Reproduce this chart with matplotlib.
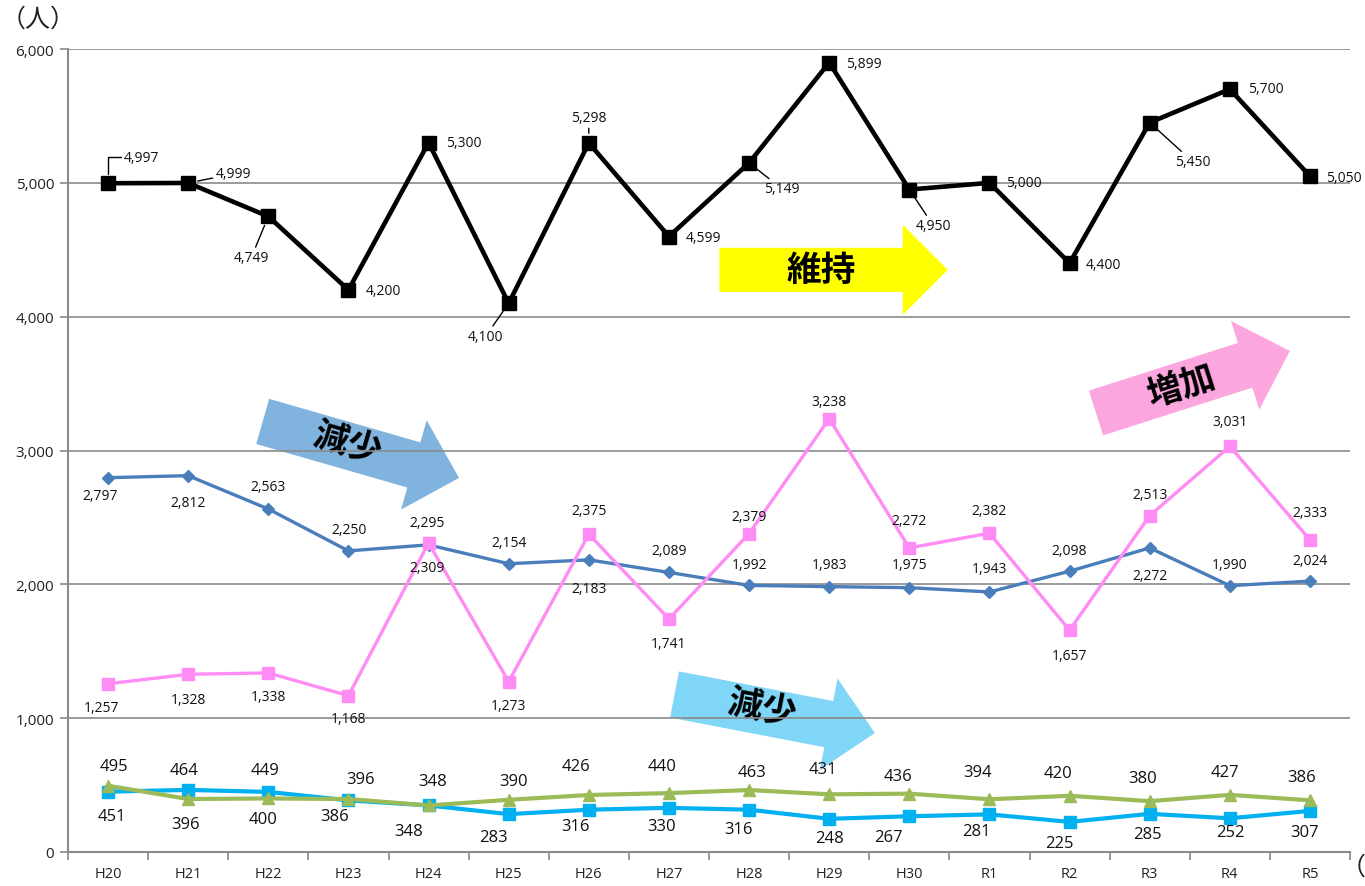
import matplotlib
matplotlib.use('Agg')
import matplotlib.pyplot as plt
import numpy as np
from matplotlib.patches import Polygon
from matplotlib.ticker import FuncFormatter, FixedLocator

plt.rcParams['font.family'] = ['Open Sans', 'Noto Sans CJK JP', 'DejaVu Sans']

# data
years = ['H20', 'H21', 'H22', 'H23', 'H24', 'H25', 'H26', 'H27', 'H28', 'H29', 'H30',
         'R1', 'R2', 'R3', 'R4', 'R5']
total = [4997, 4999, 4749, 4200, 5300, 4100, 5298, 4599, 5149, 5899, 4950, 5000, 4400, 5450, 5700, 5050]
blue_vals = [2797, 2812, 2563, 2250, 2295, 2154, 2183, 2089, 1992, 1983, 1975, 1943, 2098, 2272, 1990, 2024]
pink_vals = [1257, 1328, 1338, 1168, 2309, 1273, 2375, 1741, 2379, 3238, 2272, 2382, 1657, 2513, 3031, 2333]
green_vals = [495, 396, 400, 396, 348, 390, 426, 440, 463, 431, 436, 394, 420, 380, 427, 386]
cyan_vals = [451, 464, 449, 386, 348, 283, 316, 330, 316, 248, 267, 281, 225, 285, 252, 307]

# label offsets in pixels (dx, dy up)
total_off = [(33, 26), (45, 9), (-17, -41), (35, -1), (35, 0), (-23, -33), (0, 25), (35, -1),
             (33, -26), (35, -1), (24, -36), (34, 0), (34, -1), (43, -39), (36, 1), (34, -1)]
total_leader = [True, True, True, False, False, True, True, False, True, False, True, False, False,
                True, False, False]
blue_off = [(-8, -18), (0, -27), (0, 22), (1, 21), (-1, 22), (0, 21), (0, -29), (0, 22),
            (0, 21), (0, 22), (0, 23), (0, 23), (0, 21), (0, -28), (0, 21), (0, 21)]
pink_off = [(-7, -24), (0, -25), (0, -24), (0, -23), (-1, -25), (0, -24), (0, 24), (0, -25),
            (0, 17), (0, 17), (0, 27), (0, 23), (0, -25), (0, 21), (0, 25), (0, 27)]
green_off = [(6, 20), (-3, -25), (-5, -21), (12, 20), (4, 24), (5, 19), (-13, 29), (-7, 27),
             (3, 18), (-6, 25), (-11, 18), (-12, 27), (-12, 23), (-7, 23), (-5, 23), (-8, 23)]
cyan_off = [(4, -24), (-4, 20), (-3, 22), (-14, -16), (-20, -26), (-15, -23), (-13, -16), (-7, -18),
            (-11, -19), (0, -19), (-21, -21), (-13, -17), (-10, -21), (-2, -20), (1, -14), (-5, -21)]

W, H = 1365, 887
fig = plt.figure(figsize=(W / 100, H / 100), dpi=100)
ax = fig.add_axes([68 / W, 1 - 853 / H, (1350 - 68) / W, (853 - 50) / H])

x = np.arange(len(years))
ax.set_xlim(-0.5, len(years) - 0.5)
ax.set_ylim(0, 6000)

grid_c = '#8a8a8a'
ax.set_yticks(np.arange(0, 6001, 1000))
ax.yaxis.set_major_formatter(FuncFormatter(lambda v, p: f'{int(v):,}'))
ax.grid(axis='y', color=grid_c, lw=1.2)
ax.set_axisbelow(True)
ax.set_xticks(x)
ax.set_xticklabels(years)
ax.xaxis.set_minor_locator(FixedLocator(np.arange(-0.5, len(years), 1)))
ax.tick_params(axis='x', which='major', length=0, pad=10, labelsize=10.5, labelcolor='#222222')
ax.tick_params(axis='x', which='minor', length=6, width=1.2, color=grid_c)
ax.tick_params(axis='y', length=6, width=1.2, color=grid_c, labelsize=11, labelcolor='#222222', pad=4)
for s in ['top', 'right']:
    ax.spines[s].set_visible(False)
for s in ['left', 'bottom']:
    ax.spines[s].set_color(grid_c)
    ax.spines[s].set_linewidth(1.5)

ax.plot(x, blue_vals, color='#4A7EBB', lw=2.4, marker='D', ms=6.5, zorder=2)
ax.plot(x, pink_vals, color='#FF8CF4', lw=2.4, marker='s', ms=8.5, zorder=2.1)
ax.plot(x, cyan_vals, color='#00B0F0', lw=3, marker='s', ms=9, zorder=2.2)
ax.plot(x, green_vals, color='#9BBB59', lw=3, marker='^', ms=9, zorder=2.3)
ax.plot(x, total, color='black', lw=3.3, marker='s', ms=10, zorder=2.4)


def put_labels(vals, offs, size, leaders=None):
    for i, (v, (dx, dy)) in enumerate(zip(vals, offs)):
        kw = {}
        if leaders is not None and leaders[i]:
            cs = 'angle,angleA=0,angleB=90,rad=0' if i == 0 else 'arc3'
            kw['arrowprops'] = dict(arrowstyle='-', color='black', lw=1, shrinkA=0, shrinkB=7,
                                    connectionstyle=cs)
        ax.annotate(f'{v:,}', (x[i], v), xytext=(dx, dy), textcoords='offset pixels',
                    ha='center', va='center', fontsize=size, color='#111111', zorder=5, **kw)


put_labels(total, total_off, 10, total_leader)
put_labels(blue_vals, blue_off, 10)
put_labels(pink_vals, pink_off, 10)
put_labels(green_vals, green_off, 12)
put_labels(cyan_vals, cyan_off, 12)


def big_arrow(tail, tip, color, text, text_at, body_w=47, head_w=93, head_l=47):
    a = ax.transData.transform(tail)
    b = ax.transData.transform(tip)
    d = b - a
    u = d / np.hypot(*d)
    n = np.array([-u[1], u[0]])
    base = b - u * head_l
    pts = [a + n * body_w / 2, base + n * body_w / 2, base + n * head_w / 2, b,
           base - n * head_w / 2, base - n * body_w / 2, a - n * body_w / 2]
    pts = ax.transData.inverted().transform(np.array(pts))
    ax.add_patch(Polygon(pts, closed=True, facecolor=color, edgecolor='none', zorder=0.3))
    ang = np.degrees(np.arctan2(d[1], d[0]))
    ax.text(text_at[0], text_at[1], text, rotation=ang, rotation_mode='anchor', ha='center',
            va='center', fontsize=25, fontweight='bold', color='black', zorder=0.35,
            family=['Noto Sans CJK JP', 'DejaVu Sans'])


big_arrow((7.63, 4350), (10.48, 4350), '#FFFF00', '維持', (8.9, 4350), body_w=44, head_w=90, head_l=45)
big_arrow((1.93, 3217), (4.38, 2795), '#80B4DE', '減少', (2.99, 3064))
big_arrow((7.07, 1177), (9.57, 889), '#80D6F6', '減少', (8.16, 1083))
big_arrow((12.33, 3280), (14.75, 3744), '#FBA6DF', '増加', (13.39, 3489))

fig.text(1 / W, 1 - 20 / H, '（人）', fontsize=18, ha='left', va='center', color='#222222',
         family=['Noto Sans CJK JP', 'DejaVu Sans'])
fig.text(1341 / W, 1 - 868 / H, '（年度）', fontsize=18, ha='left', va='center', color='#222222',
         family=['Noto Sans CJK JP', 'DejaVu Sans'])

fig.savefig('out.png', dpi=100)
